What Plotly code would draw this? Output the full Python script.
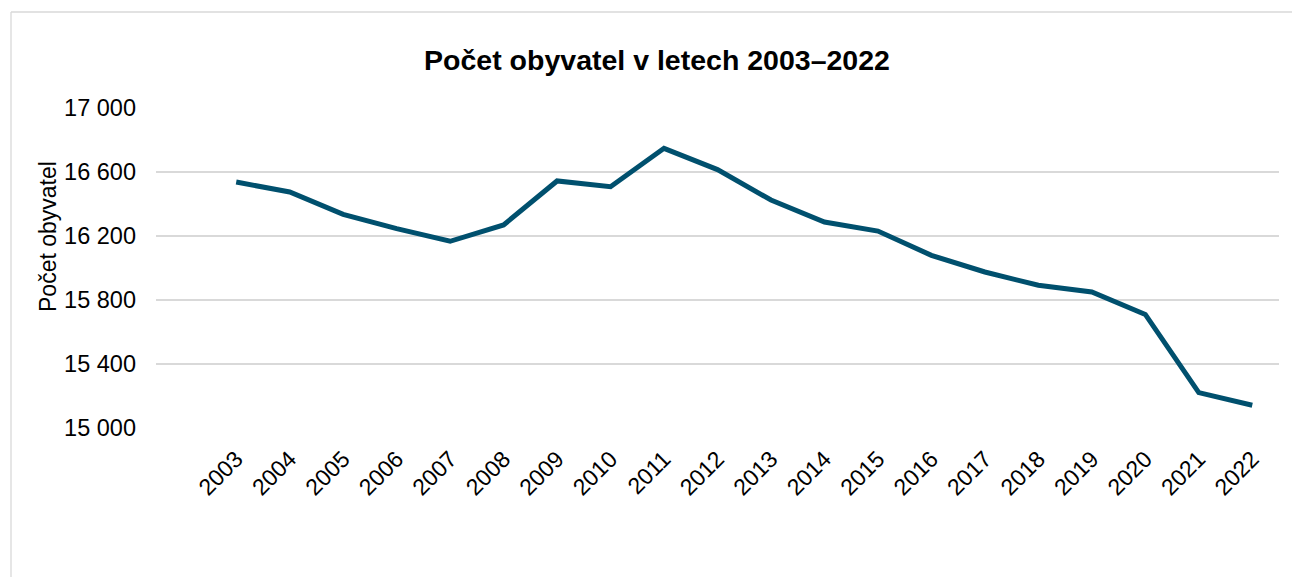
import plotly.graph_objects as go

years = [str(y) for y in range(2003, 2023)]
population = [16537, 16475, 16335, 16246, 16167, 16269, 16544, 16508, 16748, 16615,
              16425, 16287, 16231, 16079, 15975, 15892, 15850, 15710, 15221, 15142]
y_ticks = [15000, 15400, 15800, 16200, 16600, 17000]

W, H = 1292, 577
L, T = 156, 108
pw = 1279 - 156
ph = 428 - 108
R = W - L - pw
B = H - T - ph

def px_x(px):
    return (px - L) / pw

def px_y(py):
    return (T + ph - py) / ph

fig = go.Figure()
fig.add_trace(go.Scatter(
    x=years, y=population, mode="lines",
    line=dict(color="#00506E", width=5),
    hoverinfo="x+y", showlegend=False,
))

font_family = "Liberation Sans, Arial, sans-serif"
frame_line = dict(color="#D9D9D9", width=1.3)

fig.update_layout(
    width=W, height=H,
    margin=dict(l=L, r=R, t=T, b=B, pad=0),
    paper_bgcolor="white", plot_bgcolor="white",
    separators=", ",
    font=dict(family=font_family, color="#000000", size=23),
    title=dict(
        text="Počet obyvatel v letech 2003–2022",
        font=dict(family=font_family, size=28.5, color="#000000", weight="bold"),
        x=657 / W, xanchor="center", xref="container",
        y=1 - 60 / H, yanchor="middle", yref="container",
    ),
    xaxis=dict(
        type="category", categoryorder="array", categoryarray=years,
        range=[-1.5, 19.5], tickangle=-45,
        showgrid=False, showline=False, zeroline=False, ticks="",
        tickfont=dict(size=23), ticklabelstandoff=12,
    ),
    yaxis=dict(
        range=[15000, 17000], tickvals=y_ticks, tickformat=",d",
        showgrid=True, gridcolor="#D9D9D9", gridwidth=1.5,
        showline=False, zeroline=False, ticks="",
        tickfont=dict(size=23.5), ticklabelstandoff=19,
    ),
    shapes=[
        dict(type="line", xref="paper", yref="paper",
             x0=px_x(11), x1=px_x(11), y0=px_y(H + 30), y1=px_y(12),
             line=frame_line, layer="below"),
        dict(type="line", xref="paper", yref="paper",
             x0=px_x(11), x1=px_x(W + 30), y0=px_y(12), y1=px_y(12),
             line=frame_line, layer="below"),
    ],
    annotations=[dict(
        text="Počet obyvatel", textangle=-90,
        xref="paper", yref="paper", x=px_x(48), y=px_y(237),
        xanchor="center", yanchor="middle", showarrow=False,
        font=dict(family=font_family, size=23, color="#000000"),
    )],
)

fig.write_html(
    "out.html",
    config={"displayModeBar": False},
    post_script="document.body.style.margin='0';document.body.style.overflow='hidden';",
)
